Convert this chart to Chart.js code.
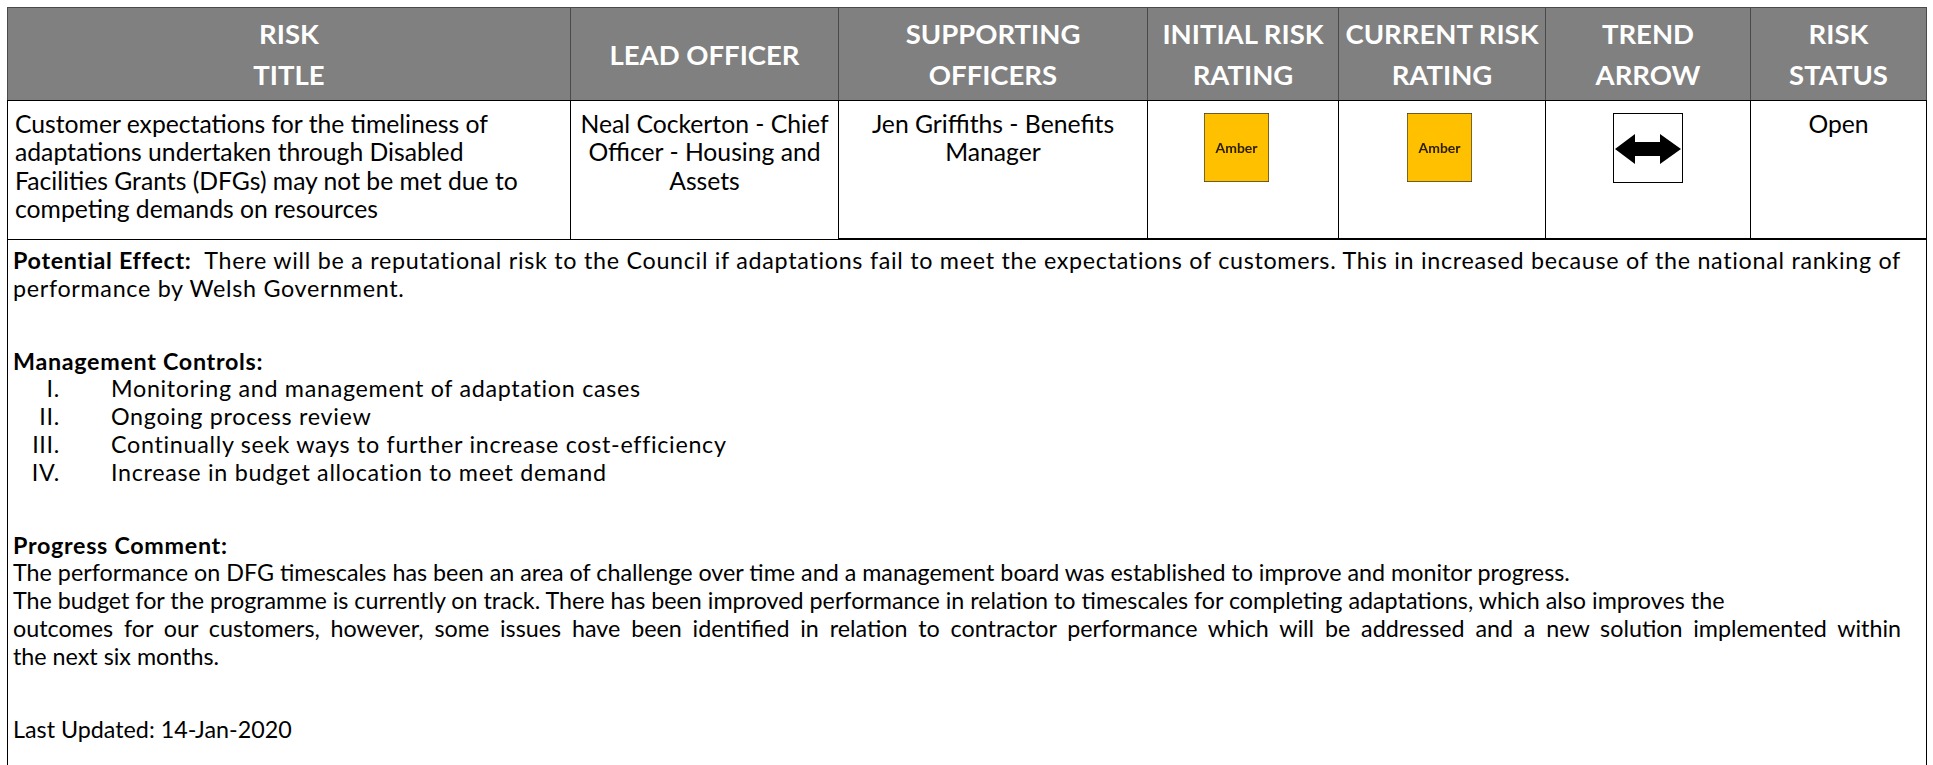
<!DOCTYPE html>
<html>
<head>
<meta charset="utf-8">
<script src="https://cdn.jsdelivr.net/npm/chart.js@4/dist/chart.umd.min.js"></script>
<style>
    body { margin: 0; background: #fff; font-family: Lato, 'Noto Sans', sans-serif; color: #000; }
    #page { position: relative; width: 1933px; height: 765px; overflow: hidden; }
    .hd {
        position: absolute; top: 7px; height: 94px; box-sizing: border-box;
        background: #808080; color: #fff; font-weight: bold;
        border: 1px solid #4a4a4a; line-height: 41px; white-space: nowrap;
        display: flex; flex-direction: column; justify-content: center; align-items: center;
    }
    .cell {
        position: absolute; top: 100px; height: 140px; box-sizing: border-box;
        border: 1px solid #000; padding-top: 9px; line-height: 28.3px; white-space: nowrap;
    }
    .cell.left { padding-left: 7px; text-align: left; }
    .cell.center { text-align: center; }
    .cell.thick { border-bottom-width: 2px; }
    #body {
        position: absolute; left: 7px; top: 239px; width: 1920px; height: 600px; box-sizing: border-box;
        border-left: 1px solid #000; border-right: 1px solid #000; border-top: 1px solid #000;
        padding: 7px 0 0 5px; line-height: 27.8px; white-space: nowrap;
    }
    .ls { letter-spacing: 0.7px; }
    .just { width: 1888px; text-align: justify; text-align-last: justify; }
    .gap { height: 45px; }
    .item { position: relative; height: 27.8px; }
    .item .num { position: absolute; right: calc(100% - 47px); top: 0; }
    .item .txt { position: absolute; left: 98px; top: 0; }
    canvas { position: absolute; }
    svg { position: absolute; }
</style>
</head>
<body>
<div id="page"></div>
<script>
// Column headers and the single risk row
const headers = [['RISK', 'TITLE'], ['LEAD OFFICER'], ['SUPPORTING', 'OFFICERS'], ['INITIAL RISK', 'RATING'], ['CURRENT RISK', 'RATING'], ['TREND', 'ARROW'], ['RISK', 'STATUS']];
const riskTitle = ['Customer expectations for the timeliness of', 'adaptations undertaken through Disabled', 'Facilities Grants (DFGs) may not be met due to', 'competing demands on resources'];
const leadOfficer = ['Neal Cockerton - Chief', 'Officer - Housing and', 'Assets'];
const supportingOfficers = ['Jen Griffiths - Benefits', 'Manager'];
const ratings = ['Amber', 'Amber']; // initial, current
const ratingColours = { Amber: '#FFC000', Red: '#FF0000', Green: '#00B050' };
const trend = 'level';
const riskStatus = ['Open'];

// Detail text below the row
const potentialEffect = ['There will be a reputational risk to the Council if adaptations fail to meet the expectations of customers. This in increased because of the national ranking of', 'performance by Welsh Government.'];
const controlNumerals = ['I.', 'II.', 'III.', 'IV.'];
const managementControls = ['Monitoring and management of adaptation cases', 'Ongoing process review', 'Continually seek ways to further increase cost-efficiency', 'Increase in budget allocation to meet demand'];
const progressComment = [
    'The performance on DFG timescales has been an area of challenge over time and a management board was established to improve and monitor progress.',
    'The budget for the programme is currently on track. There has been improved performance in relation to timescales for completing adaptations, which also improves the',
    'outcomes for our customers, however, some issues have been identified in relation to contractor performance which will be addressed and a new solution implemented within',
    'the next six months.'
];
const lastUpdated = 'Last Updated: 14-Jan-2020';

// layout
const colEdges = [7, 570, 838, 1147, 1338, 1545, 1750, 1926];
const page = document.getElementById('page');

// fit the substitute font to the widths in the original
const measure = document.createElement('canvas').getContext('2d');
function fitSize(text, target, weight) {
    measure.font = (weight || 'normal') + ' 100px Lato';
    return 100 * target / measure.measureText(text).width;
}
const bodySize = fitSize(progressComment[0], 1560);
const cellSize = bodySize * 1.06;
const headSize = fitSize('CURRENT RISK', 194, 'bold');

headers.forEach((lines, i) => {
    const d = document.createElement('div');
    d.className = 'hd';
    d.style.left = colEdges[i] + 'px';
    d.style.width = (colEdges[i + 1] - colEdges[i] + 1) + 'px';
    d.style.fontSize = headSize + 'px';
    d.innerHTML = lines.map(l => '<div>' + l + '</div>').join('');
    page.appendChild(d);
});

const rowContent = [riskTitle, leadOfficer, supportingOfficers, [], [], [], riskStatus];
rowContent.forEach((lines, i) => {
    const d = document.createElement('div');
    d.className = 'cell ' + (i === 0 ? 'left' : 'center') + (i >= 2 ? ' thick' : '');
    d.style.left = colEdges[i] + 'px';
    d.style.width = (colEdges[i + 1] - colEdges[i] + 1) + 'px';
    d.style.fontSize = cellSize + 'px';
    d.innerHTML = lines.map(l => '<div>' + l + '</div>').join('');
    page.appendChild(d);
});

// "Amber" label in the middle of the rating bar
const labelPlugin = {
    id: 'ratingLabel',
    afterDatasetsDraw(chart) {
        const bar = chart.getDatasetMeta(0).data[0];
        const ctx = chart.ctx;
        ctx.save();
        ctx.font = 'bold 14px Lato';
        ctx.fillStyle = '#2e2000';
        ctx.textAlign = 'center';
        ctx.textBaseline = 'middle';
        ctx.fillText(chart.data.labels[0], bar.x, (bar.y + bar.base) / 2 + 1);
        ctx.restore();
    }
};

function ratingBox(colIndex, rating, shift) {
    const canvas = document.createElement('canvas');
    canvas.width = 65;
    canvas.height = 69;
    const mid = (colEdges[colIndex] + colEdges[colIndex + 1]) / 2;
    canvas.style.left = Math.round(mid - 33 + shift) + 'px';
    canvas.style.top = '113px';
    page.appendChild(canvas);
    return new Chart(canvas, {
        type: 'bar',
        data: {
            labels: [rating],
            datasets: [{
                data: [1],
                backgroundColor: ratingColours[rating],
                borderColor: '#3a3a3a',
                borderWidth: 1,
                borderSkipped: false,
                barPercentage: 1,
                categoryPercentage: 1
            }]
        },
        options: {
            responsive: false,
            animation: false,
            layout: { padding: 0 },
            plugins: { legend: { display: false }, tooltip: { enabled: false } },
            scales: {
                x: { display: false },
                y: { display: false, min: 0, max: 1 }
            }
        },
        plugins: [labelPlugin]
    });
}

const initialChart = ratingBox(3, ratings[0], -6);
const currentChart = ratingBox(4, ratings[1], -2);

// trend arrow (level = double headed)
const arrowMid = (colEdges[5] + colEdges[6]) / 2;
const arrow = document.createElementNS('http://www.w3.org/2000/svg', 'svg');
arrow.setAttribute('width', '70');
arrow.setAttribute('height', '70');
arrow.style.left = Math.round(arrowMid - 35) + 'px';
arrow.style.top = '113px';
arrow.innerHTML = '<rect x="0.5" y="0.5" width="69" height="69" fill="#fff" stroke="#000" stroke-width="1"/>' +
    (trend === 'level' ? '<polygon fill="#000" points="2,36 22,21 22,29 47,29 47,21 68,36 47,51 47,43 22,43 22,51"/>' : '');
page.appendChild(arrow);

// detail text
const body = document.createElement('div');
body.id = 'body';
body.style.fontSize = bodySize + 'px';
let html = '';
html += '<div class="ls just"><b>Potential Effect:</b>&nbsp; ' + potentialEffect[0] + '</div>';
html += '<div class="ls">' + potentialEffect[1] + '</div>';
html += '<div class="gap"></div>';
html += '<div class="ls"><b>Management Controls:</b></div>';
managementControls.forEach((t, i) => {
    html += '<div class="item ls"><span class="num">' + controlNumerals[i] + '</span><span class="txt">' + t + '</span></div>';
});
html += '<div class="gap"></div>';
html += '<div class="ls"><b>Progress Comment:</b></div>';
progressComment.forEach((t, i) => {
    html += '<div' + (i === 2 ? ' class="just"' : '') + '>' + t + '</div>';
});
html += '<div class="gap"></div>';
html += '<div>' + lastUpdated + '</div>';
body.innerHTML = html;
page.appendChild(body);
</script>
</body>
</html>
